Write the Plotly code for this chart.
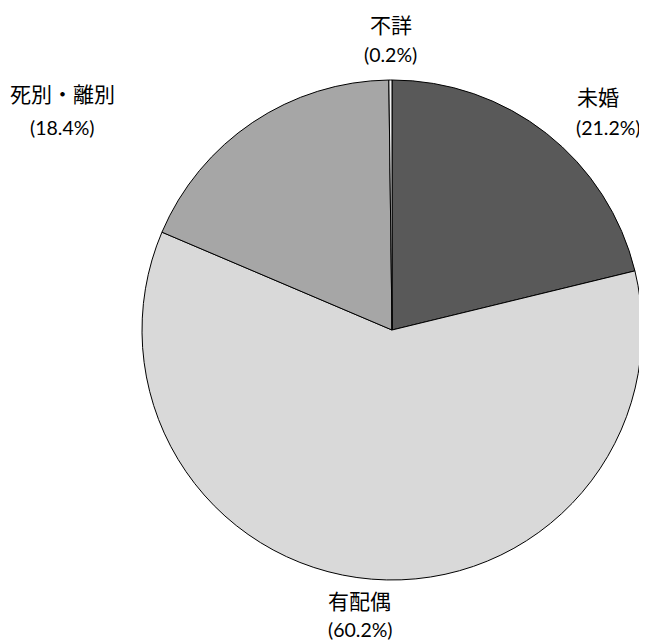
import plotly.graph_objects as go

categories = ["未婚", "有配偶", "死別・離別", "不詳"]
values = [21.2, 60.2, 18.4, 0.2]
colors = ["#595959", "#d9d9d9", "#a6a6a6", "#f2f2f2"]

# page body has an 8px margin; figure sized to reach the window's right and bottom edges
OFF = 8
W, H = 639, 635
cx, cy, r = 392 - OFF, 330 - OFF, 250

fig = go.Figure(go.Pie(
    labels=categories,
    values=values,
    sort=False,
    direction="clockwise",
    rotation=0,
    marker=dict(colors=colors, line=dict(color="#000000", width=1)),
    textinfo="none",
    hoverinfo="label+percent",
    domain=dict(x=[(cx - r) / W, (cx + r) / W], y=[1 - (cy + r) / H, 1 - (cy - r) / H]),
    showlegend=False,
))

# label centres in window px: (name line), (value line)
label_pos = {
    "未婚": ((598, 96), (608, 127)),
    "有配偶": ((359, 600), (360, 629)),
    "死別・離別": ((63, 93), (63, 127)),
    "不詳": ((391, 24), (390, 55)),
}

annotations = []
for cat, val in zip(categories, values):
    (nx, ny), (vx, vy) = label_pos[cat]
    annotations.append(dict(x=(nx - OFF) / W, y=1 - (ny - OFF) / H, xref="paper", yref="paper",
                            text=cat, showarrow=False, xanchor="center", yanchor="middle",
                            font=dict(family="Noto Sans CJK JP", size=21, color="#000000")))
    annotations.append(dict(x=(vx - OFF) / W, y=1 - (vy - OFF) / H, xref="paper", yref="paper",
                            text=f"({val:.1f}%)", showarrow=False, xanchor="center", yanchor="middle",
                            font=dict(family="Lato", size=19.5, color="#000000")))

fig.update_layout(
    width=W, height=H,
    margin=dict(l=0, r=0, t=0, b=0),
    paper_bgcolor="#ffffff",
    plot_bgcolor="#ffffff",
    annotations=annotations,
)

fig.write_html("out.html")
